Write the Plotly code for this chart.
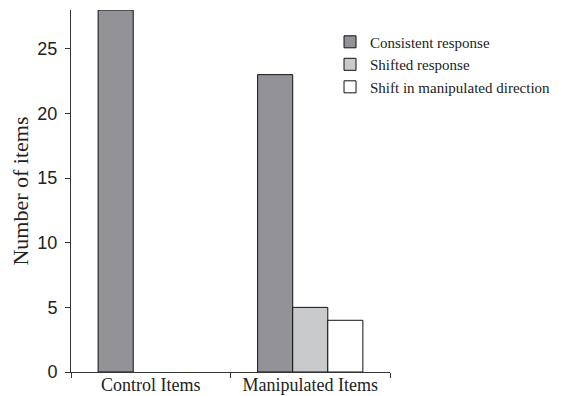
import plotly.graph_objects as go

categories = ["Control Items", "Manipulated Items"]
series_names = ["Consistent response", "Shifted response", "Shift in manipulated direction"]
consistent = [28, 23]
shifted = [None, 5]
shift_dir = [None, 4]
colors = ["#929297", "#c9cacc", "#ffffff"]
y_ticks = [0, 5, 10, 15, 20, 25]

fig = go.Figure()
for name, vals, col in zip(series_names, [consistent, shifted, shift_dir], colors):
    fig.add_trace(go.Bar(
        x=categories, y=vals, name=name,
        marker=dict(color=col, line=dict(color="#111111", width=1)),
    ))

fig.update_layout(
    width=565, height=396,
    margin=dict(l=63, r=183, t=2, b=32, autoexpand=False),
    plot_bgcolor="white", paper_bgcolor="white",
    barmode="group", bargap=0.34, bargroupgap=0,
    showlegend=True,
    legend=dict(x=0.812, y=0.957, xanchor="left", yanchor="top",
                font=dict(family="Liberation Serif", size=15, color="#222222"),
                tracegroupgap=0, itemwidth=30, bgcolor="rgba(0,0,0,0)"),
    font=dict(family="Liberation Serif", color="#222222"),
)
fig.update_xaxes(
    type="category", range=[-0.5, 1.5], automargin=False,
    showline=True, linecolor="#333333", linewidth=1,
    ticks="outside", tickson="boundaries", ticklen=5, tickcolor="#333333",
    ticklabelstandoff=-4,
    tickfont=dict(family="Liberation Serif", size=18, color="#222222"),
    showgrid=False, zeroline=False, fixedrange=True,
)
fig.update_yaxes(
    range=[0, 28], tickvals=y_ticks, automargin=False,
    showline=True, linecolor="#333333", linewidth=1,
    ticks="outside", ticklen=5, tickcolor="#333333", ticklabelstandoff=4,
    tickfont=dict(family="Liberation Sans", size=18, color="#222222"),
    title=dict(text="Number of items", font=dict(family="Liberation Serif", size=22, color="#222222"), standoff=18),
    showgrid=False, zeroline=False,
)
fig.write_html("out.html")
